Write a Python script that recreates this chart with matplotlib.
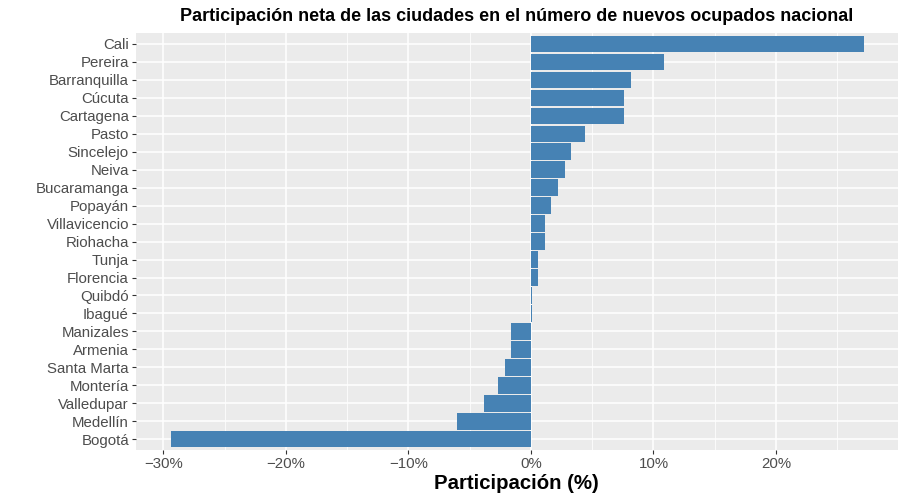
import matplotlib.pyplot as plt
from matplotlib.ticker import FixedLocator, MultipleLocator, FuncFormatter

plt.rcParams['font.family'] = ['Liberation Sans', 'DejaVu Sans']

# cities from bottom to top
ciudades = ["Bogotá", "Medellín", "Valledupar", "Montería", "Santa Marta",
            "Armenia", "Manizales", "Ibagué", "Quibdó", "Florencia", "Tunja",
            "Riohacha", "Villavicencio", "Popayán", "Bucaramanga", "Neiva",
            "Sincelejo", "Pasto", "Cartagena", "Cúcuta", "Barranquilla",
            "Pereira", "Cali"]
participacion = [-29.4, -6.0, -3.8, -2.7, -2.15,
                 -1.6, -1.6, 0.08, 0.08, 0.55, 0.55,
                 1.15, 1.15, 1.6, 2.2, 2.75,
                 3.25, 4.4, 7.6, 7.6, 8.15,
                 10.9, 27.2]
x_ticks = [-30, -20, -10, 0, 10, 20]

fig = plt.figure(figsize=(9.06, 4.98), dpi=100)
ax = fig.add_axes([0.150, 0.096, 0.841, 0.838])
ax.set_facecolor('#EBEBEB')

y = range(len(ciudades))
ax.barh(y, participacion, height=0.9, color='#4682B4', zorder=3)

ax.set_yticks(list(y))
ax.set_yticklabels(ciudades)
ax.set_ylim(-0.6, len(ciudades) - 0.4)
ax.set_xlim(-32.25, 29.95)

ax.xaxis.set_major_locator(FixedLocator(x_ticks))
ax.xaxis.set_minor_locator(MultipleLocator(5))
ax.xaxis.set_major_formatter(FuncFormatter(lambda v, p: f"{v:.0f}%".replace('-', '\u2212')))

ax.grid(which='major', color='white', linewidth=1.1, zorder=0)
ax.grid(which='minor', axis='x', color='white', linewidth=0.55, zorder=0)
for s in ax.spines.values():
    s.set_visible(False)

ax.tick_params(axis='both', which='major', colors='#333333', length=3, width=0.8,
               labelsize=10.8, labelcolor='#4D4D4D', pad=2)
ax.tick_params(axis='x', which='minor', length=0)

ax.set_xlabel("Participación (%)", fontsize=14.7, fontweight='bold', labelpad=2)
fig.text(0.570, 0.966, "Participación neta de las ciudades en el número de nuevos ocupados nacional",
         ha='center', va='center', fontsize=13, fontweight='bold')

fig.savefig("out.png", dpi=100)
